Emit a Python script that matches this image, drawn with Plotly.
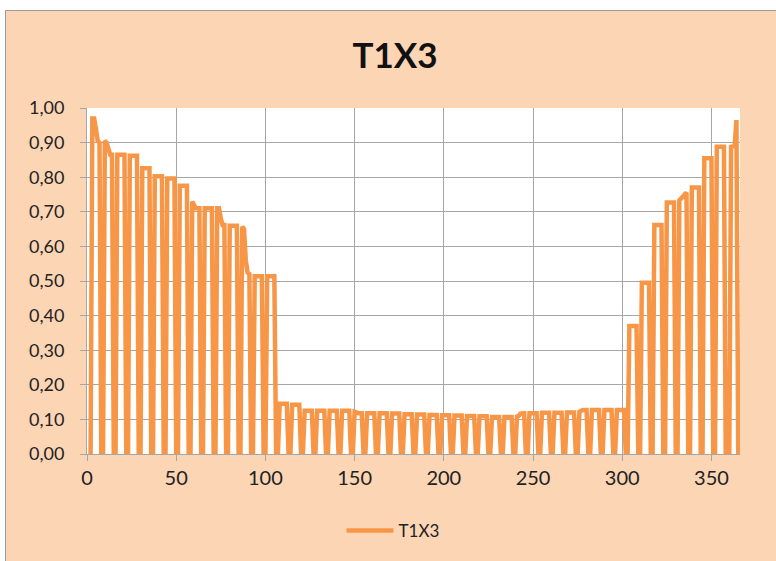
import plotly.graph_objects as go

# ---- data (daily values; each row = one week, days 7k+1 .. 7k+7) ----
series_name = "T1X3"
title_text = "T1X3"

weeks_jan_apr = [
    [0, 0, 0.970, 0.970, 0.940, 0.905, 0.900],
    [0, 0, 0.905, 0.900, 0.875, 0.865, 0.865],
    [0, 0, 0.865, 0.865, 0.865, 0.865, 0.865],
    [0, 0, 0.862, 0.862, 0.862, 0.862, 0.862],
    [0, 0, 0.826, 0.826, 0.826, 0.826, 0.826],
    [0, 0, 0.803, 0.803, 0.803, 0.803, 0.803],
    [0, 0, 0.796, 0.796, 0.796, 0.796, 0.796],
    [0, 0, 0.775, 0.775, 0.775, 0.775, 0.775],
    [0, 0, 0.730, 0.715, 0.710, 0.710, 0.710],
    [0, 0, 0.710, 0.710, 0.710, 0.710, 0.710],
    [0, 0, 0.710, 0.710, 0.680, 0.662, 0.662],
    [0, 0, 0.660, 0.660, 0.660, 0.660, 0.660],
    [0, 0, 0.657, 0.650, 0.560, 0.525, 0.520],
    [0, 0, 0.514, 0.514, 0.514, 0.514, 0.514],
    [0, 0, 0.514, 0.514, 0.514, 0.514, 0.514],
]

weeks_apr_jul = [
    [0, 0, 0.145, 0.145, 0.145, 0.145, 0.145],
    [0, 0, 0.142, 0.142, 0.142, 0.142, 0.142],
    [0, 0, 0.125, 0.125, 0.125, 0.125, 0.125],
    [0, 0, 0.125, 0.125, 0.125, 0.125, 0.125],
    [0, 0, 0.125, 0.125, 0.125, 0.125, 0.125],
    [0, 0, 0.125, 0.125, 0.125, 0.125, 0.125],
    [0, 0, 0.122, 0.119, 0.118, 0.118, 0.118],
    [0, 0, 0.118, 0.118, 0.118, 0.118, 0.118],
    [0, 0, 0.118, 0.118, 0.118, 0.118, 0.118],
    [0, 0, 0.117, 0.117, 0.117, 0.117, 0.117],
    [0, 0, 0.115, 0.115, 0.115, 0.115, 0.115],
    [0, 0, 0.114, 0.114, 0.114, 0.114, 0.114],
    [0, 0, 0.113, 0.113, 0.113, 0.113, 0.113],
]

weeks_jul_oct = [
    [0, 0, 0.112, 0.112, 0.112, 0.112, 0.112],
    [0, 0, 0.111, 0.111, 0.111, 0.111, 0.111],
    [0, 0, 0.110, 0.110, 0.110, 0.110, 0.110],
    [0, 0, 0.109, 0.109, 0.109, 0.109, 0.109],
    [0, 0, 0.107, 0.107, 0.107, 0.107, 0.107],
    [0, 0, 0.107, 0.107, 0.107, 0.107, 0.107],
    [0, 0, 0.108, 0.110, 0.117, 0.118, 0.118],
    [0, 0, 0.118, 0.118, 0.118, 0.118, 0.118],
    [0, 0, 0.119, 0.119, 0.119, 0.119, 0.119],
    [0, 0, 0.119, 0.119, 0.119, 0.119, 0.119],
    [0, 0, 0.120, 0.120, 0.120, 0.120, 0.120],
    [0, 0, 0.122, 0.125, 0.127, 0.127, 0.127],
    [0, 0, 0.127, 0.127, 0.127, 0.127, 0.127],
    [0, 0, 0.127, 0.127, 0.127, 0.127, 0.127],
    [0, 0, 0.127, 0.127, 0.127, 0.127, 0.127],
]

weeks_nov_dec = [
    [0, 0, 0.370, 0.370, 0.370, 0.370, 0.370],
    [0, 0, 0.495, 0.495, 0.495, 0.495, 0.495],
    [0, 0, 0.662, 0.662, 0.662, 0.662, 0.662],
    [0, 0, 0.727, 0.727, 0.727, 0.727, 0.727],
    [0, 0, 0.733, 0.738, 0.745, 0.750, 0.756],
    [0, 0, 0.770, 0.770, 0.770, 0.770, 0.770],
    [0, 0, 0.855, 0.855, 0.855, 0.855, 0.855],
    [0, 0, 0.888, 0.888, 0.888, 0.888, 0.888],
    [0, 0, 0, 0.888, 0.888, 0.890, 0.965],
    [0],
]

x_ticks = [0, 50, 100, 150, 200, 250, 300, 350]
y_ticks = [0.0, 0.1, 0.2, 0.3, 0.4, 0.5, 0.6, 0.7, 0.8, 0.9, 1.0]

values = [v for wk in (weeks_jan_apr + weeks_apr_jul + weeks_jul_oct + weeks_nov_dec) for v in wk]
days = list(range(1, len(values) + 1))

# ---- styles ----
LINE = "#F79646"
PEACH = "#FCD5B5"
GRID = "#A6A6A6"
FONT = "Lato, 'Open Sans', sans-serif"

W, H = 776, 561
L, R, T, B = 87, 36, 108, 107
pw, ph = W - L - R, H - T - B

def px_to_paper_x(px):
    return (px - L) / pw

def py_to_paper_y(py):
    return (H - B - py) / ph

fig = go.Figure()
fig.add_trace(go.Scatter(
    x=days, y=values, mode="lines", name=series_name,
    line=dict(color=LINE, width=4.5),
))

# white strips outside the chart area and grey border of the chart area
fig.add_shape(type="rect", xref="paper", yref="paper", layer="below",
              x0=px_to_paper_x(-5), x1=px_to_paper_x(W + 5),
              y0=py_to_paper_y(10), y1=py_to_paper_y(-5),
              fillcolor="white", line=dict(width=0))
fig.add_shape(type="rect", xref="paper", yref="paper", layer="below",
              x0=px_to_paper_x(-5), x1=px_to_paper_x(5),
              y0=py_to_paper_y(H + 5), y1=py_to_paper_y(-5),
              fillcolor="white", line=dict(width=0))
fig.add_shape(type="rect", xref="paper", yref="paper", layer="below",
              x0=px_to_paper_x(5.5), x1=px_to_paper_x(W + 10),
              y0=py_to_paper_y(H + 10), y1=py_to_paper_y(10.5),
              fillcolor="rgba(0,0,0,0)", line=dict(color="#9A9A9A", width=1))

fig.update_layout(
    width=W, height=H,
    margin=dict(l=L, r=R, t=T, b=B),
    paper_bgcolor=PEACH, plot_bgcolor="white",
    separators=",.",
    font=dict(family=FONT, color="#222222"),
    title=dict(text="<b>" + title_text + "</b>", x=395 / W, xref="container", xanchor="center",
               y=1 - 56 / H, yref="container", yanchor="middle",
               font=dict(family=FONT, size=35, color="#111111")),
    showlegend=True,
    legend=dict(orientation="h", x=px_to_paper_x(393), xanchor="center",
                y=py_to_paper_y(531), yanchor="middle", itemwidth=47,
                bgcolor="rgba(0,0,0,0)", font=dict(family=FONT, size=17, color="#222222")),
    xaxis=dict(range=[0, 366], tickvals=x_ticks, ticktext=[str(t) for t in x_ticks],
               showgrid=True, gridcolor=GRID, gridwidth=1,
               showline=True, linecolor=GRID, linewidth=1,
               ticks="outside", ticklen=6, tickcolor=GRID,
               tickfont=dict(family=FONT, size=20, color="#222222"),
               zeroline=False, fixedrange=True),
    yaxis=dict(range=[0, 1], tickvals=y_ticks, tickformat=".2f",
               showgrid=True, gridcolor=GRID, gridwidth=1,
               showline=True, linecolor=GRID, linewidth=1,
               ticks="outside", ticklen=6, tickcolor=GRID,
               ticklabelstandoff=12,
               tickfont=dict(family=FONT, size=18, color="#222222"),
               zeroline=False, fixedrange=True),
)

fig.write_html("out.html", config={"displayModeBar": False},
               post_script="document.body.style.margin='0px';document.body.style.overflow='hidden';")
